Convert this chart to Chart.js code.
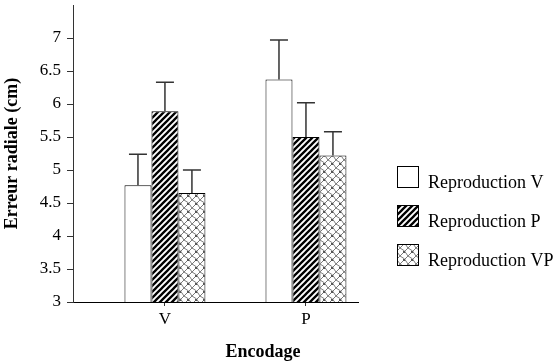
<!DOCTYPE html>
<html>
<head>
<meta charset="utf-8">
<script src="https://cdn.jsdelivr.net/npm/chart.js@4/dist/chart.umd.min.js"></script>
<style>
  html, body { margin: 0; padding: 0; background: #fff; }
  #wrap { width: 554px; height: 361px; position: relative; }
</style>
</head>
<body>
<div id="wrap"><canvas id="c" width="554" height="361"></canvas></div>
<script>
// ---- Data ----
const categories = ['V', 'P'];
const seriesNames = ['Reproduction V', 'Reproduction P', 'Reproduction VP'];
const reproV  = [4.77, 6.37];
const reproP  = [5.89, 5.50];
const reproVP = [4.65, 5.22];
const errV  = [0.47, 0.60];
const errP  = [0.44, 0.52];
const errVP = [0.35, 0.36];
const yTicks = [3, 3.5, 4, 4.5, 5, 5.5, 6, 6.5, 7];
const xTitle = 'Encodage';
const yTitle = 'Erreur radiale (cm)';

const FONT = '"Liberation Serif", "Times New Roman", serif';

// ---- Patterns ----
function hatchPattern() {
  const s = 6;
  const c = document.createElement('canvas');
  c.width = s; c.height = s;
  const g = c.getContext('2d');
  g.fillStyle = '#fff'; g.fillRect(0, 0, s, s);
  g.strokeStyle = '#000'; g.lineWidth = 2.3;
  g.beginPath();
  g.moveTo(-s, s); g.lineTo(s, -s);
  g.moveTo(0, s); g.lineTo(s, 0);
  g.moveTo(0, 2 * s); g.lineTo(2 * s, 0);
  g.stroke();
  return g.createPattern(c, 'repeat');
}
function crossPattern() {
  const s = 8;
  const c = document.createElement('canvas');
  c.width = s; c.height = s;
  const g = c.getContext('2d');
  g.fillStyle = '#fff'; g.fillRect(0, 0, s, s);
  g.strokeStyle = '#7a7a7a'; g.lineWidth = 1;
  g.beginPath();
  g.moveTo(0, s); g.lineTo(s, 0);
  g.moveTo(0, 0); g.quadraticCurveTo(s * 0.6, s * 0.2, s, s);
  g.stroke();
  g.fillStyle = '#555';
  g.fillRect(s / 2 - 1, s / 2 - 1, 2, 2);
  return g.createPattern(c, 'repeat');
}

const fills = ['#ffffff', hatchPattern(), crossPattern()];
const seriesValues = [reproV, reproP, reproVP];
const seriesErrors = [errV, errP, errVP];

const datasets = seriesNames.map((name, i) => ({
  label: name,
  data: seriesValues[i].map((v, j) => ({ x: j + 1, y: v })),
  backgroundColor: fills[i],
  borderColor: '#000',
  borderWidth: 1,
  borderSkipped: false,
  categoryPercentage: 0.574,
  barPercentage: 1.0
}));

// ---- Plugins ----
const errorBars = {
  id: 'errorBars',
  afterDatasetsDraw(chart) {
    const ctx = chart.ctx;
    const ys = chart.scales.y;
    ctx.save();
    ctx.strokeStyle = '#333';
    ctx.lineWidth = 1.5;
    chart.data.datasets.forEach((ds, i) => {
      const meta = chart.getDatasetMeta(i);
      meta.data.forEach((bar, j) => {
        const top = ys.getPixelForValue(seriesValues[i][j] + seriesErrors[i][j]);
        ctx.beginPath();
        ctx.moveTo(bar.x, bar.y);
        ctx.lineTo(bar.x, top);
        ctx.moveTo(bar.x - 9, top);
        ctx.lineTo(bar.x + 9, top);
        ctx.stroke();
      });
    });
    ctx.restore();
  }
};

const customLegend = {
  id: 'customLegend',
  afterDraw(chart) {
    const ctx = chart.ctx;
    ctx.save();
    const bx = 397, box = 22, y0 = 166, step = 39;
    chart.data.datasets.forEach((ds, i) => {
      const y = y0 + i * step;
      ctx.fillStyle = ds.backgroundColor;
      ctx.fillRect(bx, y, box, box);
      ctx.strokeStyle = '#000';
      ctx.lineWidth = 1;
      ctx.strokeRect(bx + 0.5, y + 0.5, box - 1, box - 1);
      ctx.fillStyle = '#000';
      ctx.font = '18px ' + FONT;
      ctx.textBaseline = 'alphabetic';
      ctx.textAlign = 'left';
      ctx.fillText(ds.label, 428, y + box);
    });
    // x title
    ctx.font = 'bold 18px ' + FONT;
    ctx.textAlign = 'center';
    ctx.textBaseline = 'middle';
    ctx.fillText(xTitle, 263, 352);
    ctx.restore();
  }
};

new Chart(document.getElementById('c'), {
  type: 'bar',
  data: { datasets },
  options: {
    responsive: false,
    animation: false,
    layout: { padding: { top: 5, right: 196, left: 0, bottom: 0 } },
    plugins: {
      legend: { display: false },
      tooltip: { enabled: false }
    },
    scales: {
      x: {
        type: 'linear',
        min: 0.348,
        max: 2.369,
        offset: false,
        afterBuildTicks(scale) {
          scale.ticks = categories.map((c, i) => ({ value: i + 1 }));
        },
        afterFit(scale) { scale.height = 59; scale.paddingLeft = 0; scale.paddingRight = 0; },
        ticks: {
          callback: (v) => categories[Math.round(v) - 1] || '',
          color: '#000',
          font: { family: FONT, size: 17 },
          padding: 3,
          maxRotation: 0,
          autoSkip: false
        },
        grid: { drawOnChartArea: false, offset: false, tickLength: 4, color: '#333', lineWidth: 1 },
        border: { color: '#000', width: 1 }
      },
      y: {
        min: 3,
        max: 7.5,
        afterBuildTicks(scale) {
          scale.ticks = yTicks.map(v => ({ value: v }));
        },
        afterFit(scale) { scale.width = 73; scale.paddingTop = 0; scale.paddingBottom = 0; },
        ticks: {
          color: '#000',
          font: { family: FONT, size: 17 },
          padding: 6,
          callback: (v) => String(v)
        },
        grid: { drawOnChartArea: false, offset: false, tickLength: 6, color: '#333', lineWidth: 1 },
        border: { color: '#333', width: 1 },
        title: {
          display: true,
          text: yTitle,
          color: '#000',
          font: { family: FONT, size: 18, weight: 'bold' },
          padding: { top: 2, bottom: 0 }
        }
      }
    }
  },
  plugins: [errorBars, customLegend]
});
</script>
</body>
</html>
